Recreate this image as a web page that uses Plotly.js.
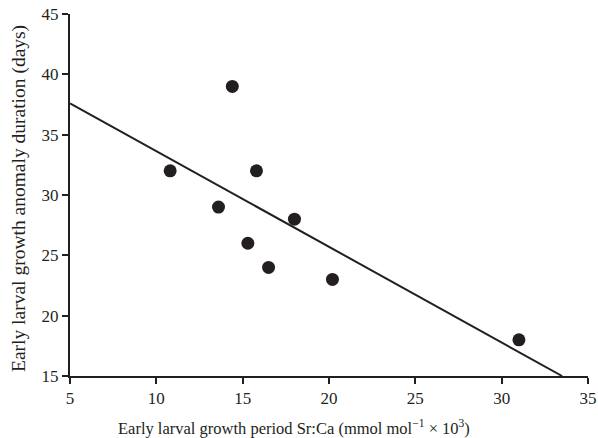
<!DOCTYPE html>
<html>
<head>
<meta charset="utf-8">
<script src="https://cdn.plot.ly/plotly-3.0.1.min.js"></script>
<style>html,body{margin:0;padding:0;background:#fff;}#chart{width:598px;height:438px;}</style>
</head>
<body>
<div id="chart"></div>
<script>
// Observed points
const srca = [14.4, 10.8, 15.8, 13.6, 18.0, 15.3, 16.5, 20.2, 31.0];
const duration = [39, 32, 32, 29, 28, 26, 24, 23, 18];
// Regression line end points (as drawn)
const fitX = [5, 33.5];
const fitY = [37.6, 15];
const xTicks = [5, 10, 15, 20, 25, 30, 35];
const yTicks = [15, 20, 25, 30, 35, 40, 45];
const xTitle = 'Early larval growth period Sr:Ca (mmol mol<sup>\u22121</sup> \u00d7 10<sup>3</sup>)';
const yTitle = 'Early larval growth anomaly duration (days)';

const ink = '#231f20';
const fontFam = '"Liberation Serif", "Times New Roman", serif';

const traces = [
  {x: fitX, y: fitY, mode: 'lines', type: 'scatter', line: {color: ink, width: 2}, hoverinfo: 'skip', cliponaxis: false},
  {x: srca, y: duration, mode: 'markers', type: 'scatter', marker: {color: ink, size: 13}, cliponaxis: false}
];

const layout = {
  width: 598, height: 438,
  margin: {l: 70, r: 10, t: 14, b: 62},
  paper_bgcolor: '#fff', plot_bgcolor: '#fff',
  showlegend: false,
  font: {family: fontFam, color: ink, size: 17},
  xaxis: {
    range: [5, 35], tickvals: xTicks, ticktext: xTicks.map(String),
    showgrid: false, zeroline: false, showline: true, linecolor: ink, linewidth: 2,
    ticks: 'outside', ticklen: 6, tickwidth: 2, tickcolor: ink,
    tickfont: {family: fontFam, size: 17, color: ink}
  },
  yaxis: {
    range: [15, 45], tickvals: yTicks, ticktext: yTicks.map(String),
    showgrid: false, zeroline: false, showline: true, linecolor: ink, linewidth: 2,
    ticks: 'outside', ticklen: 6, tickwidth: 2, tickcolor: ink,
    tickfont: {family: fontFam, size: 17, color: ink}
  },
  annotations: [
    {text: xTitle, xref: 'paper', yref: 'paper', x: 0.432, y: -0.1436, xanchor: 'center', yanchor: 'middle',
     showarrow: false, font: {family: fontFam, size: 16.5, color: ink}},
    {text: yTitle, xref: 'paper', yref: 'paper', x: -0.0985, y: 0.4917, xanchor: 'center', yanchor: 'middle',
     textangle: -90, showarrow: false, font: {family: fontFam, size: 19.5, color: ink}}
  ]
};

Plotly.newPlot('chart', traces, layout, {displayModeBar: false, staticPlot: true});
</script>
</body>
</html>
